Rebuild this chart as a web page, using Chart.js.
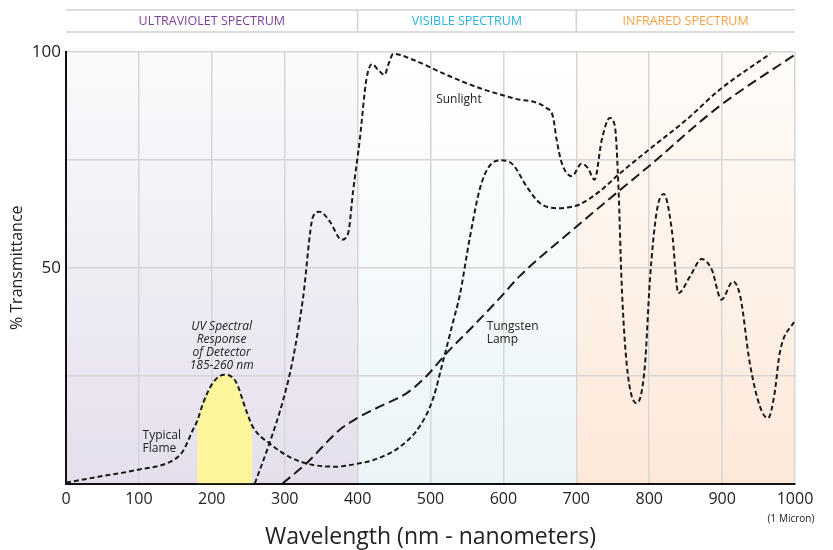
<!DOCTYPE html>
<html lang="en">
<head>
  <meta charset="UTF-8">
  <title>Spectral transmittance</title>
  <script src="https://cdn.jsdelivr.net/npm/chart.js"></script>
  <style>
    html, body { margin: 0; padding: 0; background: #fff; }
  </style>
</head>
<body>
  <canvas id="spectrum" width="833" height="550"></canvas>

  <script>
    // values: [wavelength nm, % transmittance]
    const flame = [
      [0, 0.2], [46, 1.6], [96, 3.1], [147, 5.4], [160, 7.4], [174, 12.4], [180, 14.5],
      [188, 18.6], [201, 23.2], [217, 25.2], [233, 23.6], [247, 17], [256, 13.2],
      [279, 9.3], [311, 5.8], [339, 4.3], [371, 3.9], [403, 4.7], [421, 5.4],
      [458, 8.5], [485, 13.2], [503, 19.4], [517, 28.2], [531, 37.5], [540, 43.5],
      [554, 57], [568, 68.5], [581, 73.6], [597, 74.9], [613, 73.9], [632, 68.8],
      [650, 65], [673, 63.8], [696, 64.2], [705, 64.7], [732, 67.7], [760, 71.9],
      [805, 78.1], [851, 84.3], [897, 91.3], [966, 99.6]
    ];
    const tungsten = [
      [297, 0], [330, 4.7], [375, 12.4], [400, 15.2], [430, 17.8], [467, 20.9],
      [494, 24.8], [522, 30.2], [558, 36.4], [593, 42.6], [622, 48], [695, 58.8],
      [760, 68], [800, 73.6], [896, 87.4], [1000, 99.4]
    ];
    const sunlight = [
      [259, 0], [279, 9.3], [298, 19.4], [311, 28.6], [325, 42.8], [339, 61.9],
      [348, 63], [362, 60.7], [378, 56.5], [387, 58], [394, 68], [403, 79.7],
      [412, 93.6], [420, 97.2], [428, 95.9], [437, 94.7], [442, 97], [449, 99.6],
      [476, 98.2], [522, 94.7], [568, 91.6], [613, 89.3], [659, 87], [668, 85],
      [673, 79.7], [680, 74.3], [694, 71.2], [707, 74.1], [716, 73.1], [725, 70.4],
      [735, 79.7], [746, 84.7], [753, 82.7], [758, 68], [762, 47.2], [769, 27.9],
      [783, 18.6], [794, 27.1], [801, 47.2], [810, 62.7], [820, 67.1], [831, 58.8],
      [840, 44.1], [856, 48], [872, 52], [886, 49.5], [899, 42.6], [915, 46.8],
      [925, 43.3], [938, 27.9], [952, 17.8], [963, 15.1], [972, 20.9], [979, 30.2],
      [1000, 37.9]
    ];
    // detector response band under the flame curve
    const detectorBand = [180, 256];

    const xTicks = [0, 100, 200, 300, 400, 500, 600, 700, 800, 900, 1000];
    const yTickLabels = [50, 100];

    const regions = [
      { label: "ULTRAVIOLET SPECTRUM", from: 0, to: 400, text: "#7d3f98", top: "#fbfafc", bottom: "#e5dfed" },
      { label: "VISIBLE SPECTRUM", from: 400, to: 700, text: "#27b4dc", top: "#ffffff", bottom: "#ebf5f8" },
      { label: "INFRARED SPECTRUM", from: 700, to: 1000, text: "#f7a048", top: "#fffcf9", bottom: "#fde8d8" }
    ];

    const notes = [
      { lines: ["Sunlight"], x: 539, y: 88.9, align: "center", italic: false },
      { lines: ["Tungsten", "Lamp"], x: 577, y: 36.3, align: "left", italic: false },
      { lines: ["Typical", "Flame"], x: 105, y: 11, align: "left", italic: false },
      { lines: ["UV Spectral", "Response", "of Detector", "185-260 nm"], x: 213.5, y: 36.4, align: "center", italic: true }
    ];

    const toXY = arr => arr.map(p => ({ x: p[0], y: p[1] }));
    const band = flame.filter(p => p[0] >= detectorBand[0] && p[0] <= detectorBand[1]);

    const backdrop = {
      id: "backdrop",
      beforeDraw(chart) {
        const { ctx, chartArea, scales } = chart;
        ctx.save();
        regions.forEach(r => {
          const x0 = scales.x.getPixelForValue(r.from);
          const x1 = scales.x.getPixelForValue(r.to);
          const g = ctx.createLinearGradient(0, chartArea.top, 0, chartArea.bottom);
          g.addColorStop(0, r.top);
          g.addColorStop(1, r.bottom);
          ctx.fillStyle = g;
          ctx.fillRect(x0, chartArea.top, x1 - x0, chartArea.bottom - chartArea.top);
        });
        // header strip
        ctx.strokeStyle = "#d2d2d2";
        ctx.lineWidth = 1.5;
        const hx0 = scales.x.getPixelForValue(0), hx1 = scales.x.getPixelForValue(1000);
        ctx.beginPath();
        ctx.moveTo(hx0, 10); ctx.lineTo(hx1, 10);
        ctx.moveTo(hx0, 32); ctx.lineTo(hx1, 32);
        [400, 700].forEach(v => {
          const px = scales.x.getPixelForValue(v);
          ctx.moveTo(px, 10); ctx.lineTo(px, 32);
        });
        ctx.stroke();
        ctx.font = "12.5px 'Open Sans'";
        ctx.textAlign = "center";
        ctx.textBaseline = "middle";
        regions.forEach(r => {
          ctx.fillStyle = r.text;
          const cx = (scales.x.getPixelForValue(r.from) + scales.x.getPixelForValue(r.to)) / 2;
          ctx.fillText(r.label, cx, 21.5);
        });
        ctx.restore();
      },
      afterDraw(chart) {
        const { ctx, scales } = chart;
        ctx.save();
        ctx.fillStyle = "#222";
        ctx.textBaseline = "middle";
        notes.forEach(n => {
          ctx.font = (n.italic ? "italic " : "") + "12px 'Open Sans'";
          ctx.textAlign = n.align;
          const px = scales.x.getPixelForValue(n.x);
          const py = scales.y.getPixelForValue(n.y);
          n.lines.forEach((t, i) => ctx.fillText(t, px, py + i * 13));
        });
        ctx.font = "10px 'Open Sans'";
        ctx.textAlign = "center";
        ctx.fillText("(1 Micron)", scales.x.getPixelForValue(1000) - 4, 519);
        ctx.restore();
      }
    };

    const dashed = (data, dash) => ({
      data: toXY(data),
      borderColor: "#1a1a1a",
      borderWidth: 2,
      borderDash: dash,
      pointRadius: 0,
      fill: false,
      cubicInterpolationMode: "monotone"
    });

    new Chart(document.getElementById("spectrum"), {
      type: "line",
      data: {
        datasets: [
          Object.assign(dashed(flame, [5, 3]), { label: "Typical Flame" }),
          Object.assign(dashed(tungsten, [10, 5]), { label: "Tungsten Lamp" }),
          Object.assign(dashed(sunlight, [5, 3]), { label: "Sunlight" }),
          {
            label: "UV Spectral Response of Detector",
            data: toXY(band),
            borderWidth: 0,
            borderColor: "rgba(0,0,0,0)",
            backgroundColor: "#fdf59b",
            pointRadius: 0,
            fill: "origin",
            cubicInterpolationMode: "monotone",
            order: 5
          }
        ]
      },
      options: {
        responsive: false,
        animation: false,
        devicePixelRatio: 1,
        layout: { padding: { top: 52, right: 38, left: 0, bottom: 0 } },
        plugins: { legend: { display: false }, tooltip: { enabled: false } },
        scales: {
          x: {
            type: "linear",
            min: 0,
            max: 1000,
            afterBuildTicks: s => { s.ticks = xTicks.map(v => ({ value: v })); },
            afterFit: s => { s.height = 66.5; },
            ticks: {
              color: "#222",
              font: { family: "'Open Sans'", size: 16 },
              padding: 6,
              maxRotation: 0,
              autoSkip: false,
              callback: v => String(v)
            },
            grid: { color: "#d6d6d6", lineWidth: 1.5, drawTicks: false },
            border: { color: "#111", width: 2 },
            title: {
              display: true,
              text: "Wavelength (nm - nanometers)",
              color: "#222",
              font: { family: "'Open Sans'", size: 23 },
              padding: { top: 0, bottom: -1 }
            }
          },
          y: {
            min: 0,
            max: 100,
            afterBuildTicks: s => { s.ticks = [0, 25, 50, 75, 100].map(v => ({ value: v })); },
            afterFit: s => { s.width = 66; },
            ticks: {
              color: "#222",
              font: { family: "'Open Sans'", size: 17 },
              padding: 5,
              autoSkip: false,
              callback: v => (yTickLabels.includes(v) ? v : "")
            },
            grid: { color: "#d6d6d6", lineWidth: 1.5, drawTicks: false },
            border: { color: "#111", width: 2 },
            title: {
              display: true,
              text: "% Transmittance",
              color: "#222",
              font: { family: "'Open Sans'", size: 16 },
              padding: { top: 8, bottom: 0 }
            }
          }
        }
      },
      plugins: [backdrop]
    });
  </script>
</body>
</html>
